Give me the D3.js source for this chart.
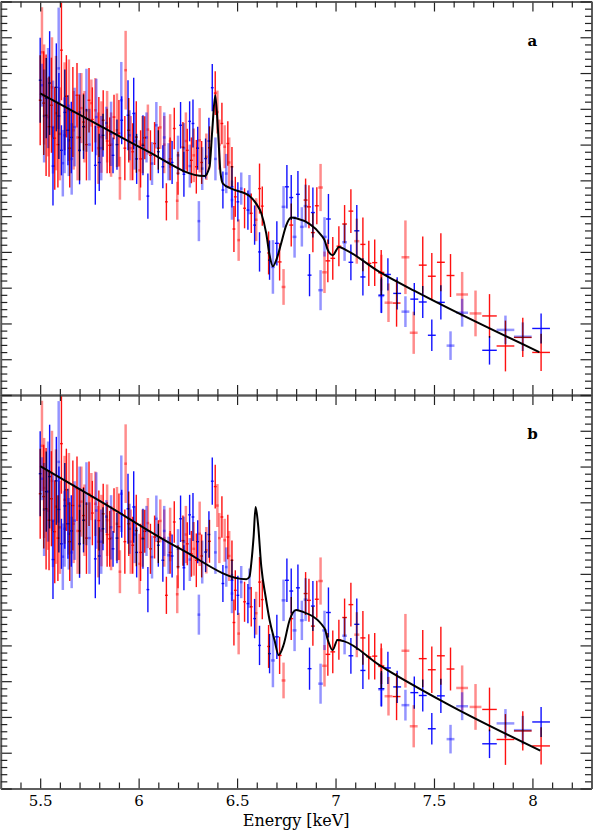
<!DOCTYPE html>
<html><head><meta charset="utf-8">
<script src="https://cdn.jsdelivr.net/npm/d3@7"></script>
<style>html,body{margin:0;padding:0;background:#fff;} svg{display:block}</style>
</head><body><svg id="c" width="593" height="832"></svg>
<script>
// ---------------- DATA ----------------
// x axis tick values / labels (keV)
const xMajorTicks = [5.5, 6, 6.5, 7, 7.5, 8];
const xTickLabels = ["5.5", "6", "6.5", "7", "7.5", "8"];
const xMinorTicks = d3.range(5.3, 8.31, 0.1).map(d => +d.toFixed(2));
// y axis (arbitrary units, no labels)
const yMajorTicks = d3.range(0, 11.01, 1);
const yMinorTicks = d3.range(0, 11.01, 0.2).map(d => +d.toFixed(2));
const panelLabels = ["a", "b"];

// spectra: [energy keV, value, error, half bin width keV]
const redSolid = [
 [5.50,8.24,1.26],[5.518,8.16,1.45],[5.53,7.82,1.7],[5.545,7.5,1.4],[5.557,8.10,1.33],[5.574,7.18,1.44],
 [5.59,7.0,1.2],[5.608,9.64,1.4],[5.633,8.35,1.15],[5.65,6.9,1.1],[5.666,7.91,1.26],[5.687,8.38,0.9],
 [5.70,7.2,1.2],[5.72,7.63,0.8],[5.735,7.0,1.0],[5.748,8.24,0.9],[5.765,7.7,0.9],[5.798,7.49,0.84],
 [5.82,7.68,0.84],[5.84,7.1,0.9],[5.853,6.98,0.78],[5.875,7.77,0.62],[5.90,7.32,0.93],[5.93,6.9,0.9],
 [5.95,7.40,0.9],[5.97,6.8,0.8],[5.988,7.21,1.0],[6.01,6.6,0.8],[6.031,7.19,0.6],[6.06,6.7,0.7],
 [6.081,7.03,0.6],[6.10,6.9,0.6],[6.141,5.40,0.52],[6.16,6.6,0.6],[6.181,7.45,0.58],[6.20,6.2,0.6],
 [6.225,6.93,0.7],[6.247,6.84,0.6],[6.268,6.56,0.64],[6.293,6.38,0.75],[6.32,6.5,0.6],[6.36,6.91,0.6],
 [6.389,8.44,0.61],[6.423,7.59,0.58],[6.453,7.03,0.62],[6.474,6.38,0.55],[6.484,4.64,0.64],
 [6.491,5.54,0.56],[6.538,5.22,0.56],[6.572,5.08,0.55],[6.614,5.77,0.7],[6.628,5.28,0.55],[6.66,3.97,0.6],
 [6.716,3.72,0.52,0.01],[6.775,4.75,0.6,0.01],[6.848,5.45,0.6,0.01],[6.865,5.26,0.6,0.01],
 [6.885,4.54,0.55,0.01],[6.905,5.29,0.52,0.01],[6.961,3.75,0.6,0.012],[6.986,3.82,0.6,0.012],
 [7.017,4.16,0.56,0.012],[7.046,4.78,0.53,0.012],[7.078,5.14,0.61,0.012],[7.139,4.21,0.75,0.013],
 [7.169,3.68,0.63,0.013],[7.199,3.70,0.65,0.013],[7.232,3.42,0.63,0.015],[7.31,2.57,0.66,0.02],
 [7.443,3.63,0.8,0.02],[7.489,3.32,0.65,0.02],[7.535,3.71,0.81,0.02],[7.584,3.34,0.6,0.02],
 [7.782,2.21,0.61,0.037],[7.863,1.37,0.71,0.045],[7.951,1.61,0.55,0.045],[8.044,1.19,0.52,0.045]
];
const redPale = [
 [5.509,9.58,1.26],[5.52,8.4,1.4],[5.54,7.77,1.1],[5.56,8.6,1.4],[5.58,7.88,1.6],[5.60,7.3,1.3],
 [5.624,8.07,1.23],[5.646,7.96,1.42],[5.67,7.40,1.1],[5.69,7.2,1.2],[5.709,8.02,0.98],[5.725,7.5,1.0],
 [5.76,8.16,0.66],[5.78,7.96,0.9],[5.795,6.9,1.0],[5.811,7.21,1.0],[5.84,7.5,1.0],[5.86,7.0,0.9],
 [5.89,7.40,1.03],[5.905,6.06,0.6],[5.934,9.08,1.1],[5.96,6.9,0.9],[6.005,6.28,0.84],[6.02,7.0,0.8],
 [6.047,7.42,0.7],[6.11,7.48,0.6],[6.13,7.0,0.8],[6.16,7.1,0.75],[6.196,5.43,0.53],[6.24,7.1,0.8],
 [6.28,6.7,0.75],[6.31,7.12,0.9],[6.344,6.66,0.65],[6.40,7.91,0.6],[6.41,7.0,0.7],[6.437,6.94,0.6],
 [6.46,6.5,0.7],[6.508,4.33,0.58],[6.597,4.9,0.6],
 [6.736,3.02,0.5,0.01],[6.924,5.80,0.66,0.012],[6.944,3.43,0.58,0.012],[7.108,4.30,0.63,0.013],
 [7.233,3.42,0.5,0.015],[7.269,2.58,0.54,0.02],[7.355,3.85,1.03,0.02],[7.397,1.74,0.59,0.02],
 [7.643,2.81,0.63,0.03],[7.711,2.28,0.64,0.03]
];
const blueSolid = [
 [5.50,8.80,1.19],[5.531,8.30,1.12],[5.548,8.72,1.45],[5.565,6.4,1.1],[5.582,8.60,1.23],[5.595,7.8,1.2],
 [5.608,6.84,0.7],[5.625,7.9,1.2],[5.641,7.40,0.98],[5.658,7.20,1.0],[5.70,6.84,0.95],[5.72,7.5,0.9],
 [5.78,6.42,1.1],[5.80,6.5,0.8],[5.819,7.26,0.6],[5.87,6.70,0.5],[5.89,7.0,0.7],[5.914,7.68,0.67],
 [5.946,7.82,0.98],[5.975,7.87,1.0],[5.99,6.6,0.7],[6.022,6.98,0.84],[6.047,5.56,0.63],[6.10,6.8,0.6],
 [6.123,6.38,0.6],[6.17,6.5,0.6],[6.213,7.54,0.65],[6.23,6.17,0.63],[6.259,7.65,0.56],[6.276,7.59,0.67],
 [6.30,6.9,0.6],[6.34,6.61,0.56],[6.357,7.10,0.65],[6.374,8.59,0.66],[6.428,5.73,0.52],
 [6.474,5.82,0.58],[6.504,5.40,0.55],[6.555,5.17,0.55],[6.589,4.75,0.55],[6.614,4.0,0.55],
 [6.665,3.77,0.55],
 [6.702,4.24,0.62,0.01],[6.753,5.82,0.61,0.01],[6.775,5.52,0.63,0.01],[6.809,5.61,0.65,0.01],
 [6.868,3.35,0.59,0.01],[6.885,5.10,0.7,0.01],[6.964,4.92,0.7,0.012],[7.078,3.71,0.5,0.012],
 [7.108,4.59,0.72,0.013],[7.139,3.30,0.52,0.013],[7.233,2.79,0.5,0.015],[7.266,3.37,0.45,0.015],
 [7.313,2.84,0.45,0.02],[7.40,2.68,0.45,0.02],[7.443,2.60,0.45,0.02],[7.489,1.67,0.44,0.02],
 [7.535,2.59,0.48,0.02],[7.782,1.25,0.4,0.037],[8.044,1.86,0.42,0.045]
];
const bluePale = [
 [5.509,8.66,0.6],[5.52,7.8,1.3],[5.54,8.3,1.4],[5.565,7.49,1.3],[5.594,9.13,1.7],[5.615,6.48,0.93],
 [5.624,7.26,1.06],[5.645,7.12,1.0],[5.66,6.6,1.0],[5.675,7.49,1.1],[5.70,7.9,1.1],[5.735,7.96,1.16],
 [5.75,7.0,1.0],[5.785,7.77,1.07],[5.81,6.9,0.9],[5.836,7.6,0.46],[5.86,7.3,0.9],[5.912,8.24,1.07],
 [5.954,7.26,0.7],[5.98,7.1,0.8],[6.04,7.2,0.7],[6.068,6.47,0.6],[6.09,7.54,0.65],[6.13,7.2,0.7],
 [6.152,6.52,0.52],[6.20,6.70,0.55],[6.23,6.9,0.7],[6.26,6.4,0.6],[6.306,4.86,0.56],[6.323,6.33,0.6],
 [6.39,6.6,0.6],[6.445,6.19,0.55],[6.474,5.45,0.55],[6.521,5.77,0.45],[6.563,5.6,0.55],
 [6.682,3.58,0.75,0.01],[6.736,5.26,0.58,0.01],[6.792,4.42,0.58,0.01],[6.829,4.70,0.55,0.01],
 [6.848,5.28,0.6,0.01],[6.924,2.93,0.56,0.012],[6.944,4.42,0.55,0.012],[7.046,4.27,0.52,0.012],
 [7.232,2.77,0.47,0.015],[7.355,2.33,0.43,0.02],[7.584,1.38,0.4,0.02],[7.643,2.30,0.39,0.03],
 [7.863,1.82,0.4,0.045],[7.951,1.63,0.4,0.045]
];
const narrowBinHalfWidth = 0.007;

// model curves
const modelAE = [5.50,5.80,6.03,6.335,6.36,6.374,6.389,6.403,6.416,6.428,6.471,6.563,6.597,6.623,6.648,6.665,6.682,6.702,6.724,6.750,6.775,6.800,6.927,6.944,6.961,6.986,7.017,7.054,7.223,7.426,8.035];
const modelAV = [8.43,7.54,6.86,6.12,6.38,7.40,8.38,7.40,6.20,5.91,5.77,5.56,5.35,5.08,4.52,3.91,3.60,3.82,4.24,4.75,4.96,4.94,4.47,4.33,4.05,3.91,4.14,4.05,3.44,2.84,1.20];
const modelBE = [5.50,5.80,6.208,6.547,6.563,6.572,6.584,6.594,6.606,6.623,6.645,6.665,6.690,6.711,6.736,6.767,6.800,6.834,6.944,6.961,6.985,7.010,7.041,7.223,7.562,8.04];
const modelBV = [9.01,8.05,6.71,5.85,5.92,6.29,7.04,7.87,7.41,6.20,5.36,4.71,4.15,3.73,4.01,4.71,4.99,4.94,4.48,4.15,3.87,4.15,4.12,3.45,2.38,1.06];

// ---------------- DRAW ----------------
const svg = d3.select("#c");
const X0 = 0.8, X1 = 591.5;
const x = d3.scaleLinear().domain([5.3, 8.3]).range([X0, X1]);
const panels = [
  {top: 1.5, bottom: 395, model: [modelAE, modelAV], label: panelLabels[0]},
  {top: 395, bottom: 788.5, model: [modelBE, modelBV], label: panelLabels[1]}
];
const series = [
  {data: redPale, color: "rgba(255,0,0,0.45)", w: 2.5, blend: "normal"},
  {data: bluePale, color: "rgba(0,0,255,0.42)", w: 2.5, blend: "normal"},
  {data: redSolid, color: "#ff1010", w: 1.4, blend: "multiply"},
  {data: blueSolid, color: "#1010ff", w: 1.4, blend: "multiply"}
];

panels.forEach((p, i) => {
  const y = d3.scaleLinear().domain([0, 11]).range([p.bottom, p.top]);
  const cid = "clip" + i;
  svg.append("clipPath").attr("id", cid).append("rect")
    .attr("x", X0).attr("y", p.top).attr("width", X1 - X0).attr("height", p.bottom - p.top);
  const g = svg.append("g").attr("clip-path", `url(#${cid})`);
  series.forEach(s => {
    const pts = g.append("g");
    s.data.forEach(d => {
      const hw = d[3] !== undefined ? d[3] : narrowBinHalfWidth;
      pts.append("line").attr("x1", x(d[0])).attr("x2", x(d[0]))
        .attr("y1", y(d[1] - d[2])).attr("y2", y(d[1] + d[2]))
        .attr("stroke", s.color).attr("stroke-width", s.w).style("mix-blend-mode", s.blend);
      pts.append("line").attr("x1", x(d[0] - hw)).attr("x2", x(d[0] + hw))
        .attr("y1", y(d[1])).attr("y2", y(d[1]))
        .attr("stroke", s.color).attr("stroke-width", s.w).style("mix-blend-mode", s.blend);
    });
  });
  const mE = p.model[0], mV = p.model[1];
  const line = d3.line().x(j => x(mE[j])).y(j => y(mV[j])).curve(d3.curveMonotoneX);
  g.append("path").attr("d", line(d3.range(mE.length)))
    .attr("fill", "none").attr("stroke", "#000").attr("stroke-width", 2).attr("stroke-linejoin", "round");

  // axes (ticks only)
  const styleAxis = sel => {
    sel.select(".domain").attr("stroke", "#555").attr("stroke-width", 1.6);
    sel.selectAll(".tick line").attr("stroke", "#222").attr("stroke-width", 1.2);
    sel.selectAll(".tick text").remove();
  };
  const xMin = xMinorTicks.filter(t => !xMajorTicks.some(m => Math.abs(m - t) < 1e-6));
  const yMin = yMinorTicks.filter(t => !yMajorTicks.some(m => Math.abs(m - t) < 1e-6));
  [[d3.axisBottom, p.top], [d3.axisTop, p.bottom]].forEach(([ax, yy]) => {
    svg.append("g").attr("transform", `translate(0,${yy})`)
      .call(ax(x).tickValues(xMajorTicks).tickSize(10).tickSizeOuter(0)).call(styleAxis);
    svg.append("g").attr("transform", `translate(0,${yy})`)
      .call(ax(x).tickValues(xMin).tickSize(6).tickSizeOuter(0)).call(styleAxis);
  });
  [[d3.axisRight, X0], [d3.axisLeft, X1]].forEach(([ax, xx]) => {
    svg.append("g").attr("transform", `translate(${xx},0)`)
      .call(ax(y).tickValues(yMajorTicks).tickSize(11).tickSizeOuter(0)).call(styleAxis);
    svg.append("g").attr("transform", `translate(${xx},0)`)
      .call(ax(y).tickValues(yMin).tickSize(6.5).tickSizeOuter(0)).call(styleAxis);
  });

  svg.append("text").attr("x", x(8.0)).attr("y", p.top + 44)
    .attr("text-anchor", "middle").attr("font-family", "DejaVu Serif").attr("font-weight", "bold")
    .attr("font-size", 15).text(p.label);
});

// tick labels
const lab = svg.append("g").attr("transform", `translate(0,${panels[1].bottom})`)
  .call(d3.axisBottom(x).tickValues(xMajorTicks).tickFormat((d, i) => xTickLabels[i]).tickSize(0).tickPadding(7));
lab.select(".domain").remove();
lab.selectAll("text").attr("font-family", "DejaVu Serif").attr("font-size", 15).attr("fill", "#000");

svg.append("text").attr("x", (X0 + X1) / 2).attr("y", 826).attr("text-anchor", "middle")
  .attr("font-family", "DejaVu Serif").attr("font-size", 16).attr("fill", "#000").text("Energy [keV]");
</script></body></html>
